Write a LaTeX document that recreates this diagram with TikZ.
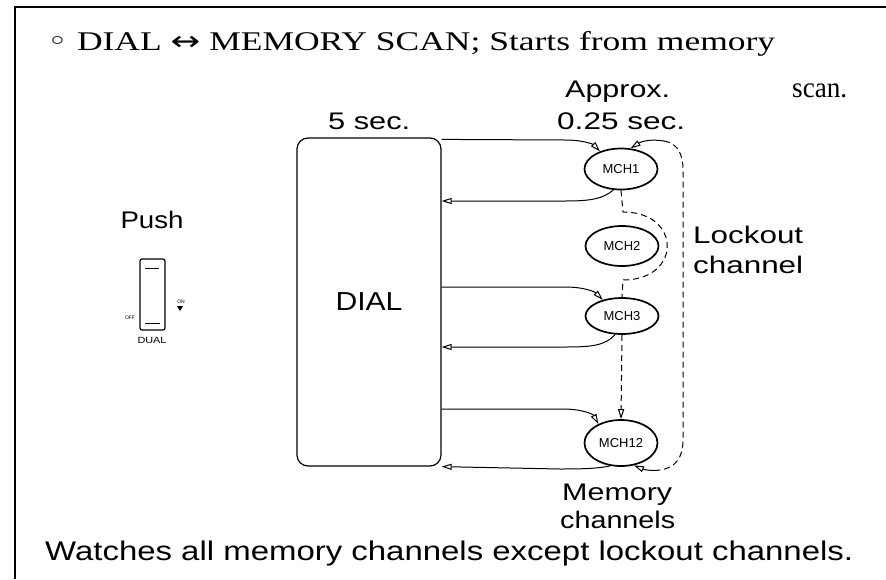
\documentclass[tikz,border=0pt]{standalone}
\usepackage{fontspec}
\usepackage{graphicx}
\setmainfont{Liberation Sans}
\newfontfamily\titlefont{Liberation Serif}
\newfontfamily\symfont{DejaVu Sans}
\usetikzlibrary{shapes.geometric,arrows.meta}
\newcommand{\fitw}[3]{\resizebox{#1}{\height}{\fontsize{#2}{#2}\selectfont #3}}
\tikzset{
  arr/.style={-{Triangle[open,length=10pt,width=6pt]}, line width=1pt},
  dsh/.style={dash pattern=on 6pt off 4pt, line width=1pt},
  mch/.style={ellipse, draw, line width=1.7pt, inner sep=0, minimum width=73pt, minimum height=41pt, font=\fontsize{13}{13}\selectfont},
  txt/.style={inner sep=0, anchor=base west},
  ctxt/.style={inner sep=0, anchor=base},
}
\begin{document}
\begin{tikzpicture}[x=1pt,y=-1pt]
\useasboundingbox (0,0) rectangle (886,579);
% frame
\draw[line width=1.2pt] (886,7) -- (15,7) -- (15,579);
% title
\node[txt] (title) at (47,50) {\fitw{728pt}{27}{\titlefont{\symfont ◦} DIAL {\symfont ↔} MEMORY SCAN; Starts from memory}};
\node[txt] (scan) at (792,97) {\fitw{55pt}{29}{\titlefont scan.}};
% labels
\node[txt] (five) at (328,129) {\fitw{82pt}{24}{5 sec.}};
\node[txt] (approx) at (565,97) {\fitw{105pt}{24}{Approx.}};
\node[txt] (quarter) at (557,129) {\fitw{128pt}{24}{0.25 sec.}};
\node[ctxt] (push) at (152,228) {\fitw{63pt}{24}{Push}};
\node[txt] (lock) at (693,243) {\fitw{110pt}{24}{Lockout}};
\node[txt] (chan) at (693,273) {\fitw{110pt}{24}{channel}};
\node[txt] (mem) at (562,500) {\fitw{110pt}{24}{Memory}};
\node[txt] (memch) at (560,528) {\fitw{115pt}{24}{channels}};
\node[txt] (bottom) at (45,560) {\fitw{808pt}{27}{Watches all memory channels except lockout channels.}};
% switch
\node[draw, rounded corners=2pt, line width=1.2pt, minimum width=25pt, minimum height=71pt, inner sep=0] (sw) at (152.5,294.5) {};
\draw[line width=1pt] (145,268) -- (159,268);
\draw[line width=1pt] (145,323) -- (160,323);
\node[ctxt] (off) at (130,319) {\fontsize{5}{5}\selectfont OFF};
\node[ctxt] (on) at (181,303) {\fontsize{5}{5}\selectfont ON};
\fill (177,306) -- (183,306) -- (180,311) -- cycle;
\node[ctxt] (dual) at (152,343) {\fitw{29pt}{9}{DUAL}};
% DIAL box
\node[draw, line width=1.2pt, rounded corners=11pt, minimum width=144pt, minimum height=328pt, inner sep=0, font=\fontsize{26}{26}\selectfont] (dial) at (369,302) {\resizebox{67pt}{\height}{DIAL}};
% memory channels
\node[mch] (m1) at (621,169) {MCH1};
\node[mch, minimum height=40pt] (m2) at (622,246) {MCH2};
\node[mch, minimum height=36pt] (m3) at (622,316) {MCH3};
\node[mch, minimum height=46pt] (m12) at (621,443) {MCH12};
% connectors
\draw[arr] ([yshift=-2pt]dial.north east) -- (565,140) .. controls (585,140) and (594,145) .. (m1.140);
\draw[arr] (m1.250) .. controls (603,199) and (590,201) .. (565,201) -- (dial.east |- 0,201);
\draw[arr] (dial.east |- 0,287) -- (565,287) .. controls (585,287) and (595,292) .. (m3.140);
\draw[arr] (m3.250) .. controls (605,346) and (590,347) .. (565,347) -- (dial.east |- 0,347);
\draw[arr] (dial.east |- 0,409) -- (562,409) .. controls (582,409) and (593,414) .. (m12.140);
\draw[arr] (m12.245) .. controls (600,468) and (590,469) .. (560,469) -- (dial.south east);
% lockout bypass
\draw[dsh] (m1.south) -- (623,212) .. controls (682,212) and (682,280) .. (623,280) -- (m3.north);
\draw[dsh,arr] (m3.south) -- (m12.north);
\coordinate (lt) at (664,141);
\coordinate (lb) at (660,470);
\draw[arr] (lt) .. controls (652,139) and (642,141) .. (m1.65);
\draw[dsh] (lt) .. controls (678,143) and (683,155) .. (683,170) -- (683,440) .. controls (683,458) and (675,468) .. (lb);
\draw[arr] (lb) .. controls (652,471) and (645,470) .. (m12.300);
\end{tikzpicture}
\end{document}
